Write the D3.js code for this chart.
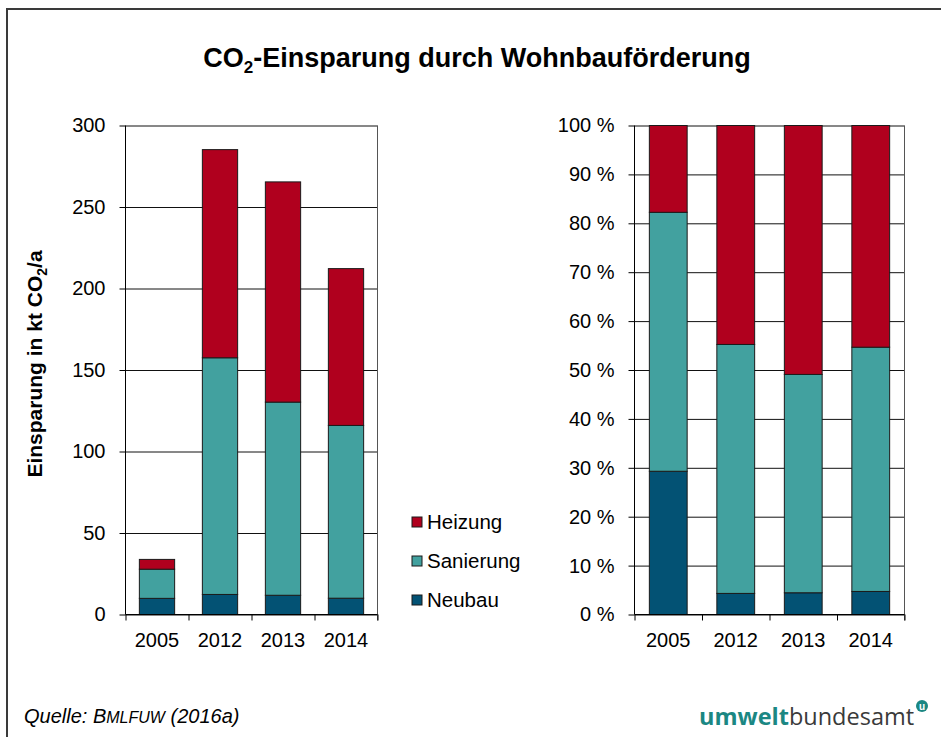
<!DOCTYPE html>
<html>
<head>
<meta charset="utf-8">
<script src="https://cdn.jsdelivr.net/npm/d3@7"></script>
<style>
  body { margin: 0; background: #fff; }
  svg { display: block; font-family: "Liberation Sans", Arial, sans-serif; }
  .tick text { font-size: 20px; fill: #000; }
</style>
</head>
<body>
<div id="graph"></div>
<script>
// values in kt CO2/a
var years = ["2005", "2012", "2013", "2014"];
var neubau = [9.9, 12.3, 11.8, 10.0];
var sanierung = [17.9, 145.2, 118.5, 106.0];
var heizung = [6.0, 127.7, 135.1, 96.2];

var seriesNames = ["Neubau", "Sanierung", "Heizung"];
var seriesColours = ["#035274", "#42A19F", "#B0001E"];
var absTicks = [0, 50, 100, 150, 200, 250, 300];
var pctTicks = [0, 0.1, 0.2, 0.3, 0.4, 0.5, 0.6, 0.7, 0.8, 0.9, 1];

var table = years.map(function (y, i) {
    return { year: y, Neubau: neubau[i], Sanierung: sanierung[i], Heizung: heizung[i] };
});

var width = 941, height = 737;
var plotTop = 125.5, plotBottom = 614.5;

var svg = d3.select('#graph')
    .append('svg')
    .attr('width', width)
    .attr('height', height);

// frame (top + left only)
svg.append('path')
    .attr('d', 'M7,737 V9 H941')
    .attr('fill', 'none')
    .attr('stroke', '#3a3a3a')
    .attr('stroke-width', 2);

// title
var title = svg.append('text')
    .attr('x', 477)
    .attr('y', 67)
    .attr('text-anchor', 'middle')
    .style('font-weight', 'bold')
    .style('font-size', '27px');
title.append('tspan').text('CO');
title.append('tspan').attr('dy', 6).style('font-size', '17px').text('2');
title.append('tspan').attr('dy', -6).text('-Einsparung durch Wohnbauförderung');

var colour = d3.scaleOrdinal().domain(seriesNames).range(seriesColours);

function drawPanel(x0, x1, stacked, y, ticks, fmt) {
    var x = d3.scaleBand()
        .domain(years)
        .range([x0, x1])
        .paddingInner(0.44)
        .paddingOuter(0.22);

    var g = svg.append('g');

    // gridlines
    g.append('g')
        .attr('transform', 'translate(' + x0 + ',0)')
        .call(d3.axisLeft(y).tickValues(ticks).tickSize(-(x1 - x0)).tickFormat(''))
        .call(function (s) {
            s.select('.domain').remove();
            s.selectAll('line').attr('stroke', '#111');
        });

    // right edge of the plot area
    g.append('line')
        .attr('x1', x1).attr('x2', x1)
        .attr('y1', y.range()[1]).attr('y2', y.range()[0] + 6)
        .attr('stroke', '#555');

    // bars
    g.selectAll('g.layer')
        .data(stacked)
        .enter().append('g')
        .attr('class', 'layer')
        .attr('fill', function (d) { return colour(d.key); })
        .selectAll('rect')
        .data(function (d) { return d; })
        .enter().append('rect')
        .attr('x', function (d) { return x(d.data.year); })
        .attr('width', x.bandwidth())
        .attr('y', function (d) { return y(d[1]); })
        .attr('height', function (d) { return y(d[0]) - y(d[1]); })
        .attr('stroke', '#1a1a1a')
        .attr('stroke-width', 1);

    // y axis
    var yAxis = g.append('g')
        .attr('transform', 'translate(' + x0 + ',0)')
        .call(d3.axisLeft(y).tickValues(ticks).tickSize(6).tickPadding(14).tickFormat(fmt));
    yAxis.selectAll('.tick line').attr('stroke', '#000');
    yAxis.select('.domain').attr('stroke', '#000').attr('d', 'M0,' + y.range()[0] + 'V' + y.range()[1]);
    yAxis.selectAll('text').style('font-family', '"Liberation Sans", Arial, sans-serif');

    // x axis: boundary ticks + centred labels
    var bounds = d3.scaleLinear().domain([0, years.length]).range([x0, x1]);
    g.append('g')
        .attr('transform', 'translate(0,' + y.range()[0] + ')')
        .call(d3.axisBottom(bounds).tickValues(d3.range(years.length + 1)).tickSize(6).tickFormat(''))
        .call(function (s) {
            s.select('.domain').attr('stroke', '#000').attr('d', 'M' + x0 + ',0H' + x1);
            s.selectAll('line').attr('stroke', '#000');
        });
    g.append('g')
        .attr('transform', 'translate(0,' + y.range()[0] + ')')
        .call(d3.axisBottom(x).tickSize(0).tickPadding(18))
        .call(function (s) {
            s.select('.domain').remove();
            s.selectAll('text').style('font-family', '"Liberation Sans", Arial, sans-serif');
        });
}

// left: absolute
var yAbs = d3.scaleLinear().domain([0, 300]).range([plotBottom, plotTop]);
var stackAbs = d3.stack().keys(seriesNames)(table);
drawPanel(125.5, 377.5, stackAbs, yAbs, absTicks, d3.format('d'));

// right: share
var yPct = d3.scaleLinear().domain([0, 1]).range([plotBottom, plotTop]);
var stackPct = d3.stack().keys(seriesNames).offset(d3.stackOffsetExpand)(table);
drawPanel(634.5, 904.5, stackPct, yPct, pctTicks, function (d) { return Math.round(d * 100) + ' %'; });

// y axis title
var ylab = svg.append('text')
    .attr('transform', 'translate(42,364) rotate(-90)')
    .attr('text-anchor', 'middle')
    .style('font-weight', 'bold')
    .style('font-size', '21px');
ylab.append('tspan').text('Einsparung in kt CO');
ylab.append('tspan').attr('dy', 5).style('font-size', '14px').text('2');
ylab.append('tspan').attr('dy', -5).text('/a');

// legend
var legendOrder = ["Heizung", "Sanierung", "Neubau"];
var leg = svg.selectAll('g.legend')
    .data(legendOrder)
    .enter().append('g')
    .attr('class', 'legend')
    .attr('transform', function (d, i) { return 'translate(412,' + (522 + i * 39) + ')'; });
leg.append('rect')
    .attr('x', 0).attr('y', -5)
    .attr('width', 10).attr('height', 10)
    .attr('fill', function (d) { return colour(d); })
    .attr('stroke', '#1a1a1a');
leg.append('text')
    .attr('x', 15)
    .attr('y', 7)
    .style('font-size', '20.5px')
    .text(function (d) { return d; });

// source
var src = svg.append('text')
    .attr('x', 24)
    .attr('y', 723)
    .style('font-style', 'italic')
    .style('font-size', '20px');
src.append('tspan').text('Quelle: B');
src.append('tspan').style('font-size', '16px').text('MLFUW');
src.append('tspan').text(' (2016a)');

// logo
var logo = svg.append('text')
    .attr('x', 699)
    .attr('y', 725)
    .style('font-family', '"Open Sans", "DejaVu Sans", sans-serif')
    .style('font-size', '23.5px');
logo.append('tspan').style('font-weight', 'bold').attr('fill', '#1b8783').text('umwelt');
logo.append('tspan').attr('fill', '#3a3a3a').text('bundesamt');
svg.append('circle').attr('cx', 922).attr('cy', 706).attr('r', 6).attr('fill', '#1b8783');
svg.append('text')
    .attr('x', 922).attr('y', 709.5)
    .attr('text-anchor', 'middle')
    .attr('fill', '#fff')
    .style('font-weight', 'bold')
    .style('font-size', '10px')
    .text('u');
</script>
</body>
</html>
